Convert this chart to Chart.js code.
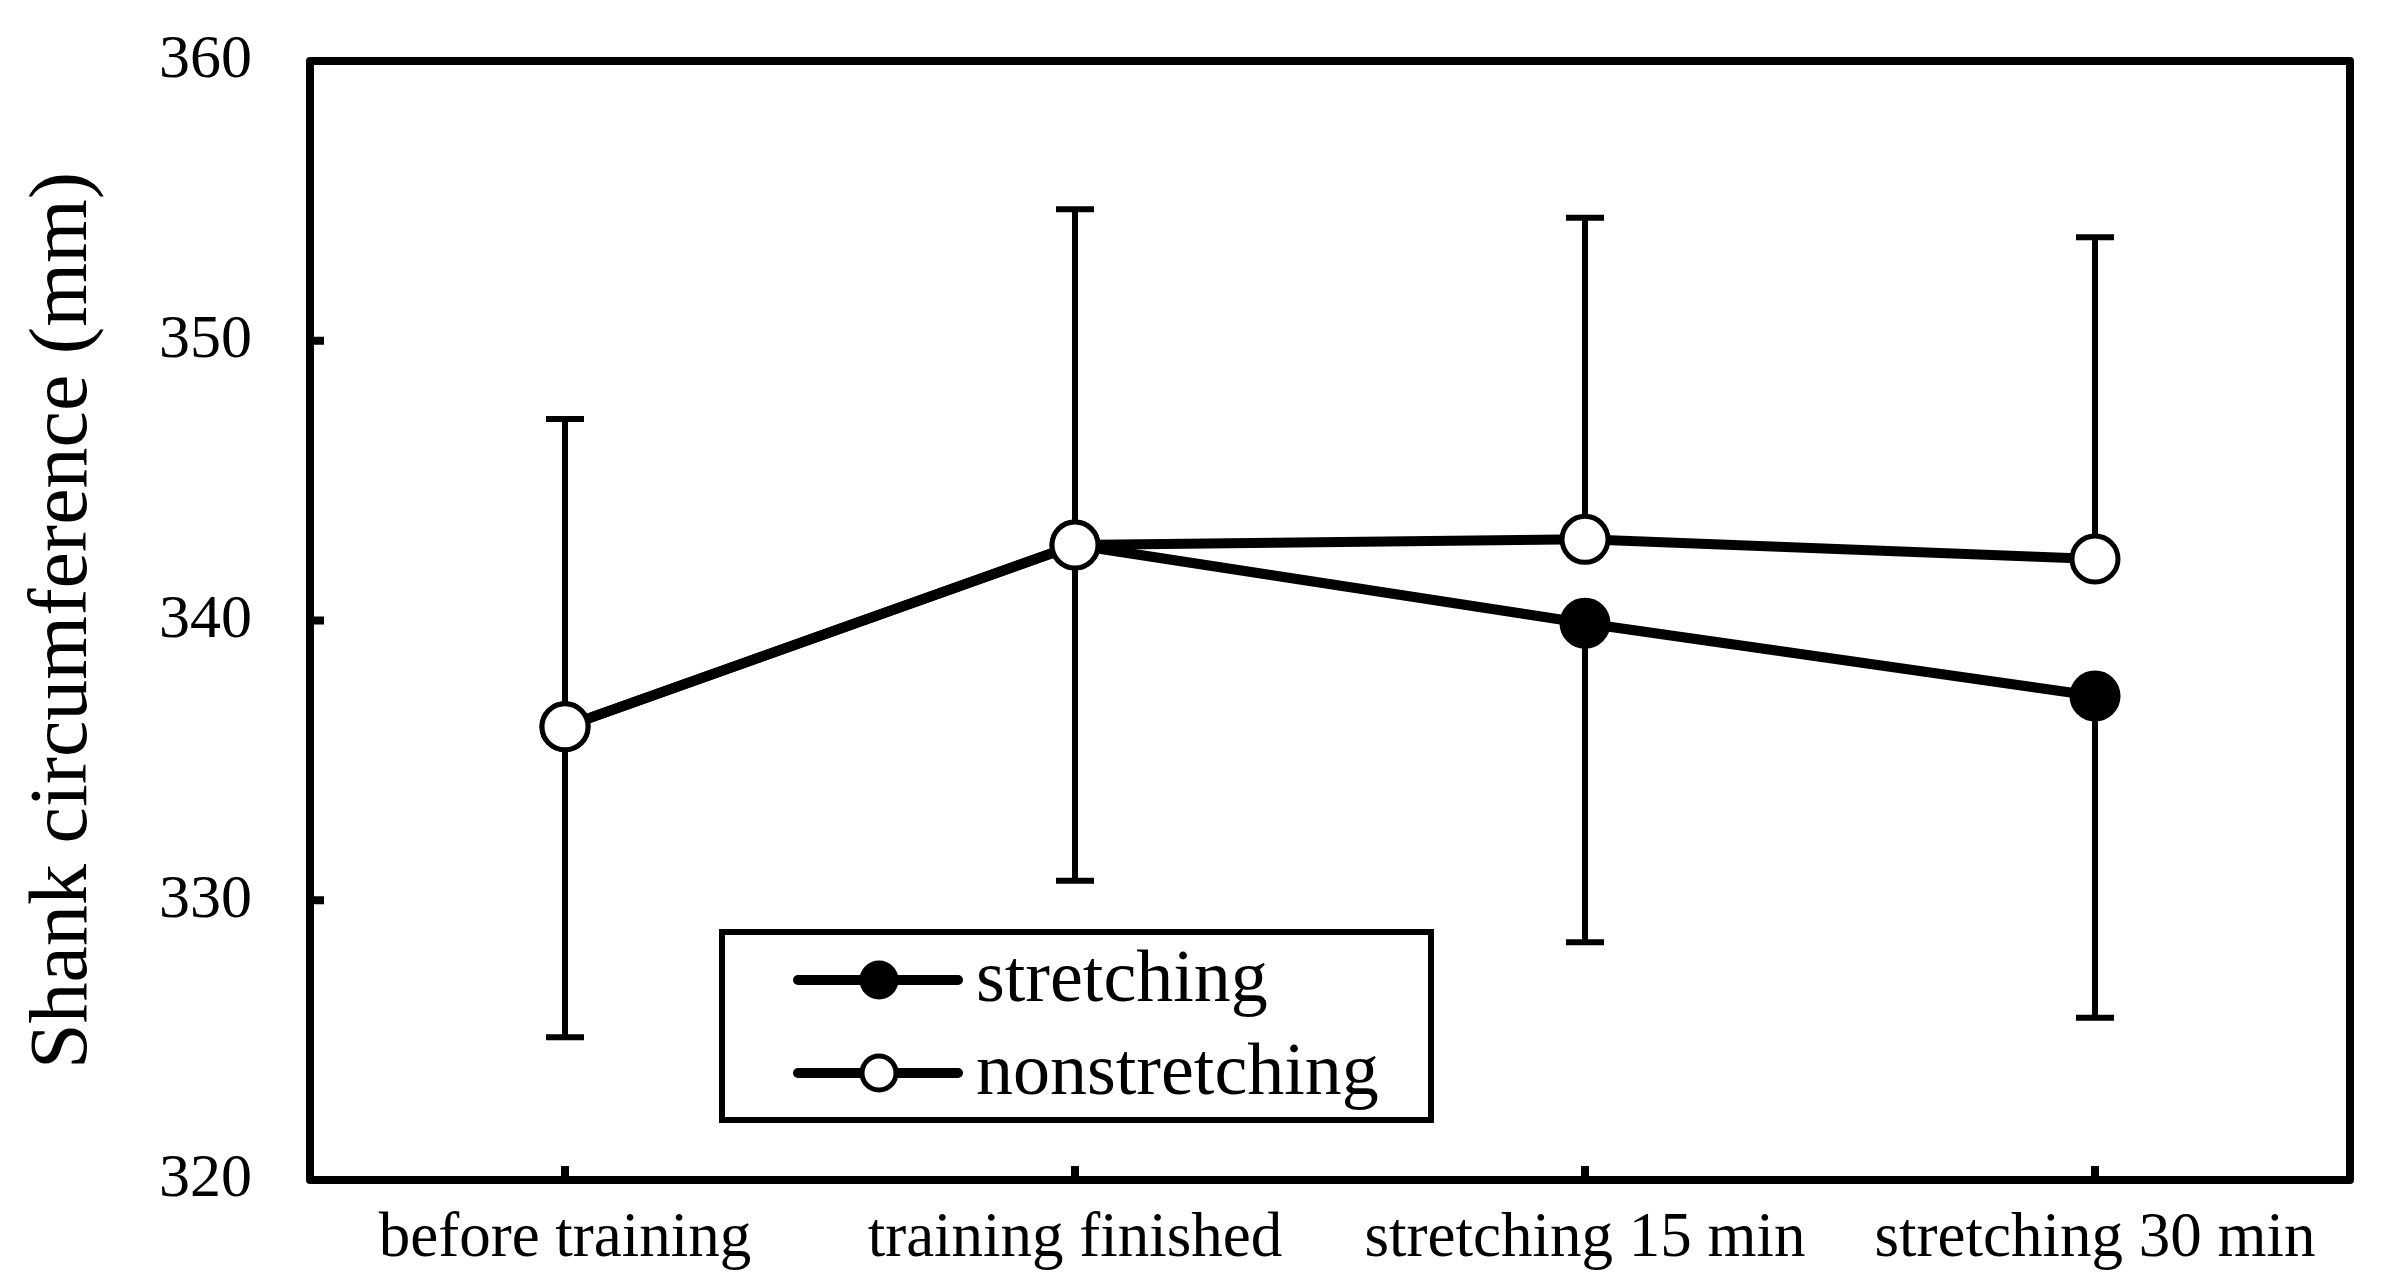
<!DOCTYPE html>
<html>
<head>
<meta charset="utf-8">
<script src="https://cdn.jsdelivr.net/npm/chart.js@4.4.1/dist/chart.umd.min.js"></script>
<style>
  html, body { margin: 0; padding: 0; background: #fff; }
  canvas { display: block; }
</style>
</head>
<body>
<canvas id="grafico" width="2393" height="1286"></canvas>
<script>
// dados
const categorias = ['before training', 'training finished', 'stretching 15 min', 'stretching 30 min'];
const stretching = [336.2, 342.7, 339.9, 337.3];
const nonstretching = [336.2, 342.7, 342.9, 342.2];
// desvio padrao: nonstretching desenhado para cima, stretching para baixo
const sdNonstretching = [11.0, 12.0, 11.5, 11.5];
const sdStretching = [11.1, 12.0, 11.4, 11.5];
const yTicks = [320, 330, 340, 350, 360];

const fonte = '"Liberation Serif", "Times New Roman", serif';

// barras de erro por baixo das linhas
const barrasErro = {
    id: 'barrasErro',
    beforeDatasetsDraw(chart) {
        const ctx = chart.ctx;
        const x = chart.scales.x, y = chart.scales.y;
        const cap = 19;
        ctx.save();
        ctx.strokeStyle = '#000';
        ctx.lineWidth = 6;
        ctx.lineCap = 'butt';
        categorias.forEach((c, i) => {
            const px = x.getPixelForValue(i);
            const yTop = y.getPixelForValue(nonstretching[i] + sdNonstretching[i]);
            const yNon = y.getPixelForValue(nonstretching[i]);
            const yStr = y.getPixelForValue(stretching[i]);
            const yBot = y.getPixelForValue(stretching[i] - sdStretching[i]);
            ctx.beginPath();
            ctx.moveTo(px, yNon); ctx.lineTo(px, yTop);
            ctx.moveTo(px - cap, yTop); ctx.lineTo(px + cap, yTop);
            ctx.moveTo(px, yStr); ctx.lineTo(px, yBot);
            ctx.moveTo(px - cap, yBot); ctx.lineTo(px + cap, yBot);
            ctx.stroke();
        });
        ctx.restore();
    }
};

// moldura e marcas para dentro
const moldura = {
    id: 'moldura',
    afterDraw(chart) {
        const ctx = chart.ctx;
        const a = chart.chartArea;
        const x = chart.scales.x, y = chart.scales.y;
        ctx.save();
        ctx.strokeStyle = '#000';
        ctx.lineWidth = 8;
        ctx.lineJoin = 'round';
        ctx.strokeRect(a.left, a.top, a.right - a.left, a.bottom - a.top);
        ctx.beginPath();
        yTicks.forEach(v => {
            const py = y.getPixelForValue(v);
            ctx.moveTo(a.left, py); ctx.lineTo(a.left + 14, py);
        });
        categorias.forEach((c, i) => {
            const px = x.getPixelForValue(i);
            ctx.moveTo(px, a.bottom); ctx.lineTo(px, a.bottom - 14);
        });
        ctx.stroke();
        ctx.restore();
    }
};

// legenda dentro do grafico
const legendaCaixa = {
    id: 'legendaCaixa',
    afterDraw(chart) {
        const ctx = chart.ctx;
        const bx = 722, by = 932, bw = 709, bh = 188;
        ctx.save();
        ctx.fillStyle = '#fff';
        ctx.fillRect(bx, by, bw, bh);
        ctx.strokeStyle = '#000';
        ctx.lineWidth = 6;
        ctx.strokeRect(bx, by, bw, bh);
        const linhas = [980, 1073];
        chart.data.datasets.forEach((ds, i) => {
            const ly = linhas[i];
            ctx.beginPath();
            ctx.lineWidth = 10;
            ctx.lineCap = 'round';
            ctx.moveTo(798, ly); ctx.lineTo(958, ly);
            ctx.stroke();
            ctx.beginPath();
            ctx.arc(879, ly, 17, 0, Math.PI * 2);
            ctx.fillStyle = ds.pointBackgroundColor;
            ctx.fill();
            ctx.lineWidth = 5;
            ctx.stroke();
            ctx.fillStyle = '#000';
            ctx.font = '74px ' + fonte;
            ctx.textAlign = 'left';
            ctx.textBaseline = 'middle';
            ctx.fillText(ds.label, 976, ly + 2);
        });
        ctx.restore();
    }
};

new Chart(document.getElementById('grafico'), {
    type: 'line',
    data: {
        labels: categorias,
        datasets: [
            {
                label: 'stretching',
                data: stretching,
                borderColor: '#000',
                borderWidth: 10,
                pointBackgroundColor: '#000',
                pointBorderColor: '#000',
                pointBorderWidth: 5,
                pointRadius: 23,
                tension: 0,
                order: 1
            },
            {
                label: 'nonstretching',
                data: nonstretching,
                borderColor: '#000',
                borderWidth: 10,
                pointBackgroundColor: '#fff',
                pointBorderColor: '#000',
                pointBorderWidth: 5,
                pointRadius: 23,
                tension: 0,
                order: 0
            }
        ]
    },
    options: {
        responsive: false,
        animation: false,
        devicePixelRatio: 1,
        layout: { padding: { top: 61, right: 43, left: 0, bottom: 0 } },
        plugins: { legend: { display: false }, tooltip: { enabled: false } },
        scales: {
            x: {
                offset: true,
                grid: { display: false, drawTicks: false },
                border: { display: false },
                ticks: { color: '#000', font: { family: fonte, size: 63 }, padding: 22, maxRotation: 0 },
                afterFit(s) { s.height = 106; }
            },
            y: {
                min: 320,
                max: 360,
                grid: { display: false, drawTicks: false },
                border: { display: false },
                ticks: { stepSize: 10, color: '#000', font: { family: fonte, size: 62 }, padding: 58 },
                title: {
                    display: true,
                    text: 'Shank circumference (mm)',
                    color: '#000',
                    font: { family: fonte, size: 82 },
                    padding: { top: 15, bottom: 0 }
                },
                afterFit(s) {
                    s.width = 310;
                    s.paddingTop = 0;
                    s.paddingBottom = 0;
                }
            }
        }
    },
    plugins: [barrasErro, moldura, legendaCaixa]
});
</script>
</body>
</html>
